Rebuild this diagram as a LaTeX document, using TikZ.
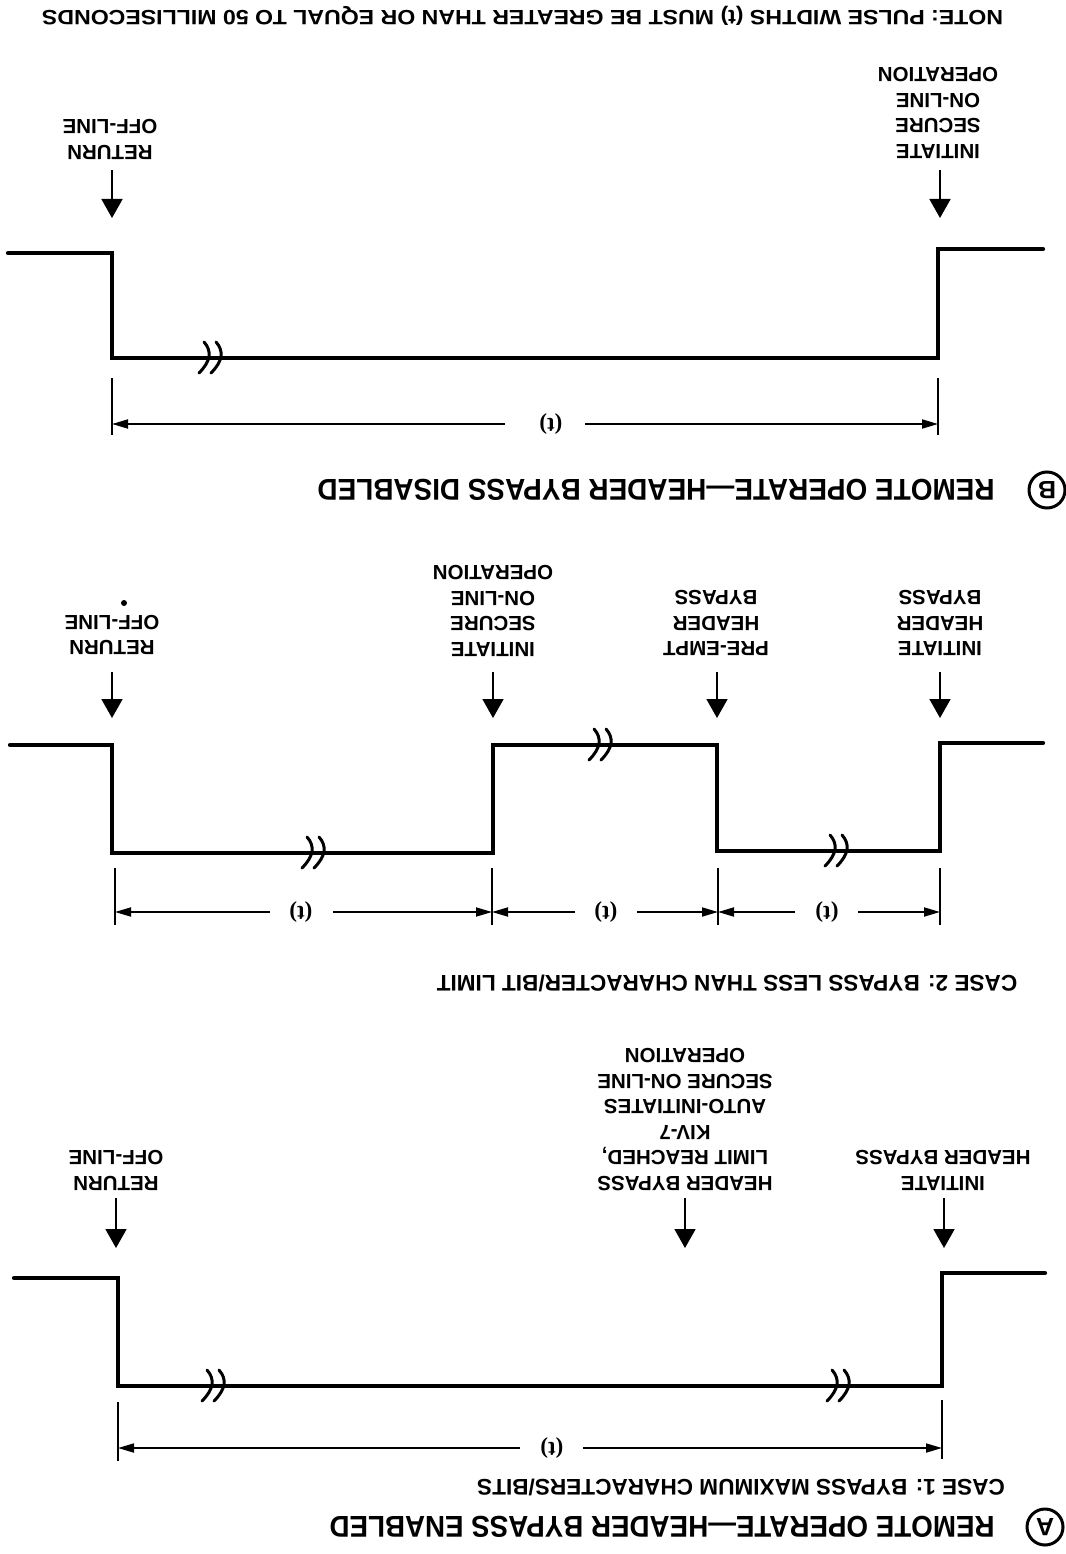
\documentclass[tikz,border=0pt]{standalone}
\usepackage{fontspec}
\setmainfont{Liberation Sans}
\newfontfamily\dimfont{Liberation Serif}
\usetikzlibrary{arrows.meta}
\tikzset{
  wave/.style={line width=4.2pt, line cap=round, line join=miter},
  evarrow/.style={line width=1.8pt, -{Triangle[length=19pt,width=21pt]}},
  tickline/.style={line width=1.7pt},
  dimline/.style={line width=1.8pt, -{Triangle[length=16pt,width=9pt]}},
  lbl/.style={rotate=180, align=center, inner sep=0pt, font=\bfseries\fontsize{20.5}{25.5}\selectfont},
  tlab/.style={rotate=180, inner sep=0pt, font=\dimfont\bfseries\fontsize{23}{26}\selectfont},
  notetext/.style={rotate=180, inner sep=0pt, text height=15pt, text depth=0pt, font=\bfseries},
  casetext/.style={rotate=180, inner sep=0pt, text height=15.5pt, text depth=0pt, font=\bfseries\fontsize{22.6}{26}\selectfont},
  titletext/.style={rotate=180, inner sep=0pt, text height=21pt, text depth=0pt, font=\bfseries},
  circletter/.style={circle, draw, line width=3pt, minimum size=36pt, inner sep=0pt, rotate=180, font=\bfseries\fontsize{25}{27}\selectfont},
  dotmark/.style={circle, fill, inner sep=0pt, minimum size=6pt},
  brkmark/.pic={
    \draw[line width=3pt, line cap=round] (-6,-16) .. controls (2,-7) and (1,3) .. (-11,15);
    \draw[line width=3pt, line cap=round] (6,-16) .. controls (14,-7) and (13,3) .. (1,15);
  }
}
\begin{document}
\begin{tikzpicture}[x=1pt,y=-1pt]
\fill[white] (0,0) rectangle (1065,1554);
\useasboundingbox (0,0) rectangle (1065,1554);

% ---------------- NOTE ----------------
\node[notetext] (note) at (522.5,18) {\resizebox{961pt}{15pt}{NOTE: PULSE WIDTHS (t) MUST BE GREATER THAN OR EQUAL TO 50 MILLISECONDS}};

% ---------------- SECTION B ----------------
\node[lbl] (bRet) at (110,139.5) {RETURN\\OFF-LINE};
\node[lbl] (bIni) at (938,113) {INITIATE\\SECURE\\ON-LINE\\OPERATION};
\coordinate (bRetS) at (112,170); \coordinate (bRetE) at (112,218);
\coordinate (bIniS) at (940,170); \coordinate (bIniE) at (940,218);
\draw[evarrow] (bRetS) -- (bRetE);
\draw[evarrow] (bIniS) -- (bIniE);

\coordinate (b0) at (8,253);   \coordinate (b1) at (112,253);
\coordinate (b2) at (112,358); \coordinate (b3) at (938,358);
\coordinate (b4) at (938,249); \coordinate (b5) at (1043,249);
\draw[wave] (b0) -- (b1) -- (b2) -- (b3) -- (b4) -- (b5);
\pic at (210,358) {brkmark};

\coordinate (bt1a) at (112,378); \coordinate (bt1b) at (112,435);
\coordinate (bt2a) at (938,378); \coordinate (bt2b) at (938,435);
\draw[tickline] (bt1a) -- (bt1b);
\draw[tickline] (bt2a) -- (bt2b);
\node[tlab] (bT) at (551,424) {(t)};
\coordinate (bd1) at (112,424); \coordinate (bd2) at (938,424);
\draw[dimline] ([xshift=-46pt]bT.center) -- (bd1);
\draw[dimline] ([xshift=34pt]bT.center) -- (bd2);

\node[circletter] (bCirc) at (1047,490) {B};
\node[titletext] (bTitle) at (656,490) {\resizebox{677pt}{21pt}{REMOTE OPERATE—HEADER BYPASS DISABLED}};

% ---------------- CASE 2 ----------------
\node[lbl] (c2Ret) at (112,635) {RETURN\\OFF-LINE};
\node[dotmark] (c2Dot) at (124,603) {};
\node[lbl] (c2Ini) at (493,611) {INITIATE\\SECURE\\ON-LINE\\OPERATION};
\node[lbl] (c2Pre) at (716,623) {PRE-EMPT\\HEADER\\BYPASS};
\node[lbl] (c2Hb) at (940,623) {INITIATE\\HEADER\\BYPASS};
\coordinate (c2a1s) at (112,672); \coordinate (c2a1e) at (112,718);
\coordinate (c2a2s) at (493,672); \coordinate (c2a2e) at (493,718);
\coordinate (c2a3s) at (717,672); \coordinate (c2a3e) at (717,718);
\coordinate (c2a4s) at (940,672); \coordinate (c2a4e) at (940,718);
\draw[evarrow] (c2a1s) -- (c2a1e);
\draw[evarrow] (c2a2s) -- (c2a2e);
\draw[evarrow] (c2a3s) -- (c2a3e);
\draw[evarrow] (c2a4s) -- (c2a4e);

\coordinate (c0) at (10,745);  \coordinate (c1) at (112,745);
\coordinate (c2) at (112,853); \coordinate (c3) at (493,853);
\coordinate (c4) at (493,745); \coordinate (c5) at (717,745);
\coordinate (c6) at (717,851); \coordinate (c7) at (940,851);
\coordinate (c8) at (940,743); \coordinate (c9) at (1043,743);
\draw[wave] (c0) -- (c1) -- (c2) -- (c3) -- (c4) -- (c5) -- (c6) -- (c7) -- (c8) -- (c9);
\pic at (313,853) {brkmark};
\pic at (600,745) {brkmark};
\pic at (836,851) {brkmark};

\foreach \tx/\tn in {115/1,492/2,718/3,940/4}{
  \coordinate (c2t\tn a) at (\tx,868);
  \coordinate (c2t\tn b) at (\tx,925);
  \coordinate (c2d\tn) at (\tx,912);
}
\draw[tickline] (c2t1a) -- (c2t1b);
\draw[tickline] (c2t2a) -- (c2t2b);
\draw[tickline] (c2t3a) -- (c2t3b);
\draw[tickline] (c2t4a) -- (c2t4b);
\node[tlab] (c2T1) at (301,912) {(t)};
\node[tlab] (c2T2) at (606,912) {(t)};
\node[tlab] (c2T3) at (827,912) {(t)};
\draw[dimline] ([xshift=-31pt]c2T1.center) -- (c2d1);
\draw[dimline] ([xshift=32pt]c2T1.center) -- (c2d2);
\draw[dimline] ([xshift=-31pt]c2T2.center) -- (c2d2);
\draw[dimline] ([xshift=31pt]c2T2.center) -- (c2d3);
\draw[dimline] ([xshift=-32pt]c2T3.center) -- (c2d3);
\draw[dimline] ([xshift=31pt]c2T3.center) -- (c2d4);

\node[casetext] (case2) at (727,983) {CASE 2: BYPASS LESS THAN CHARACTER/BIT LIMIT};

% ---------------- CASE 1 ----------------
\node[lbl] (c1Ret) at (116,1170.5) {RETURN\\OFF-LINE};
\node[lbl] (c1Hb) at (685,1119.5) {HEADER BYPASS\\LIMIT REACHED,\\KIV-7\\AUTO-INITIATES\\SECURE ON-LINE\\OPERATION};
\node[lbl] (c1Ini) at (943,1170.5) {INITIATE\\HEADER BYPASS};
\coordinate (c1a1s) at (116,1198); \coordinate (c1a1e) at (116,1248);
\coordinate (c1a2s) at (685,1198); \coordinate (c1a2e) at (685,1248);
\coordinate (c1a3s) at (944,1198); \coordinate (c1a3e) at (944,1248);
\draw[evarrow] (c1a1s) -- (c1a1e);
\draw[evarrow] (c1a2s) -- (c1a2e);
\draw[evarrow] (c1a3s) -- (c1a3e);

\coordinate (a0) at (14,1278);  \coordinate (a1) at (118,1278);
\coordinate (a2) at (118,1386); \coordinate (a3) at (942,1386);
\coordinate (a4) at (942,1273); \coordinate (a5) at (1045,1273);
\draw[wave] (a0) -- (a1) -- (a2) -- (a3) -- (a4) -- (a5);
\pic at (213,1386) {brkmark};
\pic at (838,1386) {brkmark};

\coordinate (at1a) at (118,1402); \coordinate (at1b) at (118,1461);
\coordinate (at2a) at (942,1400); \coordinate (at2b) at (942,1459);
\draw[tickline] (at1a) -- (at1b);
\draw[tickline] (at2a) -- (at2b);
\node[tlab] (aT) at (552,1448) {(t)};
\coordinate (ad1) at (118,1448); \coordinate (ad2) at (942,1448);
\draw[dimline] ([xshift=-32pt]aT.center) -- (ad1);
\draw[dimline] ([xshift=31pt]aT.center) -- (ad2);

\node[casetext] (case1) at (741,1487) {CASE 1: BYPASS MAXIMUM CHARACTERS/BITS};

\node[circletter] (aCirc) at (1045,1527) {A};
\node[titletext] (aTitle) at (662,1527) {\resizebox{665pt}{21pt}{REMOTE OPERATE—HEADER BYPASS ENABLED}};
\end{tikzpicture}
\end{document}
